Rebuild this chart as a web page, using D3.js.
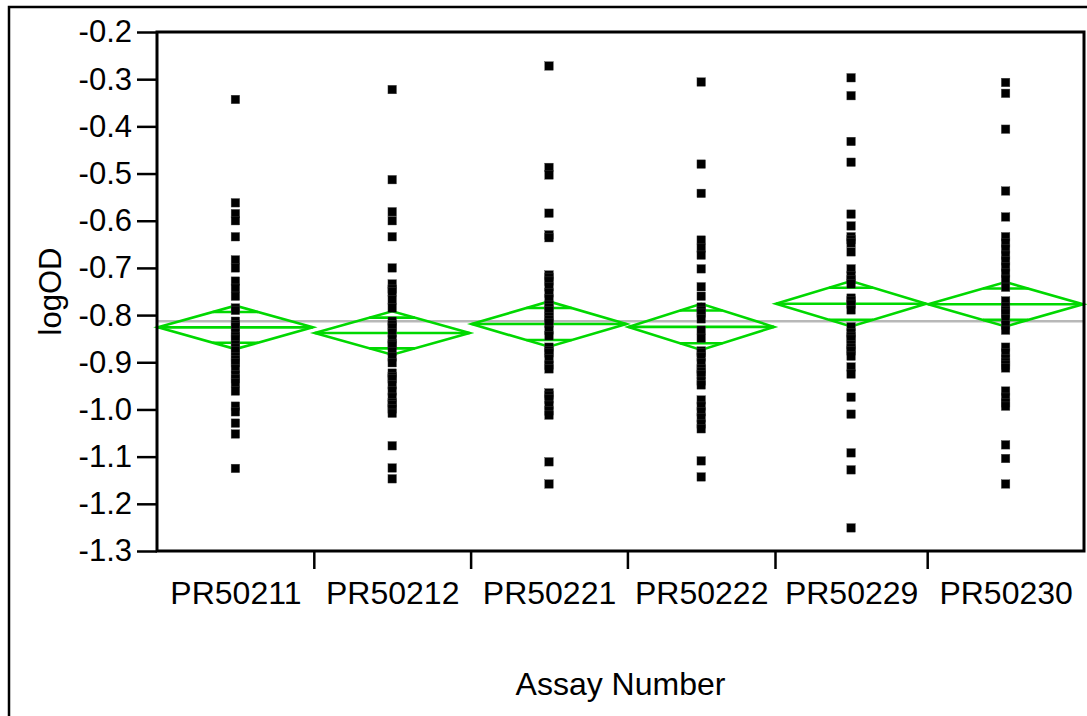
<!DOCTYPE html>
<html><head><meta charset="utf-8">
<script src="https://cdn.jsdelivr.net/npm/d3@7"></script>
<style>
body{margin:0;background:#fff}
text{font-family:"Liberation Sans",Arial,sans-serif}
</style>
</head><body>
<svg id="chart" width="1087" height="716"></svg>
<script>
// ---- data ----
const categories = ["PR50211","PR50212","PR50221","PR50222","PR50229","PR50230"];
const pr50211 = [-0.343,-0.562,-0.585,-0.600,-0.634,-0.683,-0.700,-0.728,-0.743,-0.760,-0.785,-0.790,-0.813,-0.820,-0.825,-0.838,-0.845,-0.851,-0.863,-0.870,-0.876,-0.889,-0.895,-0.901,-0.914,-0.927,-0.935,-0.944,-0.961,-0.993,-1.005,-1.029,-1.052,-1.125];
const pr50212 = [-0.322,-0.513,-0.581,-0.600,-0.634,-0.700,-0.734,-0.745,-0.751,-0.768,-0.785,-0.813,-0.820,-0.826,-0.838,-0.851,-0.860,-0.864,-0.877,-0.889,-0.901,-0.923,-0.930,-0.935,-0.948,-0.961,-0.974,-0.986,-0.990,-0.999,-1.008,-1.077,-1.124,-1.147];
const pr50221 = [-0.272,-0.487,-0.503,-0.584,-0.630,-0.636,-0.715,-0.720,-0.728,-0.740,-0.753,-0.766,-0.779,-0.785,-0.791,-0.804,-0.810,-0.817,-0.832,-0.844,-0.868,-0.875,-0.880,-0.893,-0.906,-0.914,-0.965,-0.970,-0.978,-0.991,-1.003,-1.012,-1.111,-1.158];
const pr50222 = [-0.306,-0.480,-0.542,-0.641,-0.658,-0.673,-0.702,-0.740,-0.760,-0.783,-0.790,-0.796,-0.808,-0.832,-0.849,-0.876,-0.880,-0.889,-0.901,-0.914,-0.920,-0.927,-0.940,-0.948,-0.980,-0.993,-1.005,-1.018,-1.031,-1.041,-1.109,-1.143];
const pr50229 = [-0.297,-0.335,-0.432,-0.476,-0.586,-0.611,-0.634,-0.640,-0.647,-0.666,-0.702,-0.717,-0.725,-0.734,-0.764,-0.770,-0.777,-0.789,-0.825,-0.838,-0.845,-0.851,-0.863,-0.870,-0.876,-0.887,-0.910,-0.925,-0.974,-1.010,-1.092,-1.128,-1.251];
const pr50230 = [-0.307,-0.330,-0.406,-0.537,-0.592,-0.634,-0.647,-0.660,-0.673,-0.685,-0.698,-0.711,-0.724,-0.741,-0.770,-0.783,-0.790,-0.796,-0.808,-0.821,-0.832,-0.868,-0.880,-0.893,-0.900,-0.906,-0.912,-0.961,-0.974,-0.986,-0.993,-1.075,-1.104,-1.158];
const groupValues = [pr50211, pr50212, pr50221, pr50222, pr50229, pr50230];
const groupMeans = [-0.826,-0.838,-0.819,-0.825,-0.776,-0.777];
const groupCIHalf = [0.046,0.046,0.048,0.049,0.048,0.047];
const grandMean = -0.813;
const yTicks = [-0.2,-0.3,-0.4,-0.5,-0.6,-0.7,-0.8,-0.9,-1.0,-1.1,-1.2,-1.3];
const xTitle = "Assay Number";
const yTitle = "logOD";

// ---- layout ----
const svg = d3.select("#chart");
const L = 157, R = 1084, T = 32, B = 551;
const green = "#00d800";
const FONT = "'Liberation Sans',Arial,sans-serif";

const counts = groupValues.map(g => g.length);
const cum = [0]; counts.forEach(c => cum.push(cum[cum.length-1] + c));
const total = cum[cum.length-1];
const x = d3.scaleLinear().domain([0, total]).range([L, R]);
const y = d3.scaleLinear().domain([-1.3, -0.2]).range([B, T]);

// outer border
svg.append("path").attr("d", `M9,716V7H1087`).attr("fill","none").attr("stroke","#000").attr("stroke-width",2.5);

// grand mean line
svg.append("line").attr("x1", L).attr("x2", R).attr("y1", y(grandMean)).attr("y2", y(grandMean))
  .attr("stroke", "#b8b8b8").attr("stroke-width", 2.5);

// diamonds
const gD = svg.append("g").attr("fill","none").attr("stroke",green).attr("stroke-width",2.6).attr("stroke-linejoin","miter");
categories.forEach((c,i) => {
  const x0 = x(cum[i]) + 1, x1 = x(cum[i+1]) - 1, xc = (x0 + x1)/2;
  const hw = (x1 - x0)/2;
  const m = groupMeans[i], h = groupCIHalf[i];
  gD.append("path").attr("d", `M${x0},${y(m)}L${xc},${y(m+h)}L${x1},${y(m)}L${xc},${y(m-h)}Z`);
  gD.append("line").attr("x1",x0).attr("x2",x1).attr("y1",y(m)).attr("y2",y(m));
  const ov = h/Math.SQRT2, k = 1 - 1/Math.SQRT2;
  [m+ov, m-ov].forEach(v => {
    gD.append("line").attr("x1", xc - hw*k).attr("x2", xc + hw*k).attr("y1", y(v)).attr("y2", y(v));
  });
});

// points
const s = 8.5;
groupValues.forEach((g,i) => {
  const xc = x((cum[i] + cum[i+1]) / 2);
  svg.append("g").selectAll("rect").data(g).join("rect")
    .attr("x", xc - s/2).attr("y", d => y(d) - s/2).attr("width", s).attr("height", s)
    .attr("fill", "#000").attr("stroke","#444").attr("stroke-width",0.4);
});

// frame
svg.append("rect").attr("x", L).attr("y", T).attr("width", R-L).attr("height", B-T)
  .attr("fill","none").attr("stroke","#000").attr("stroke-width",3);

// y axis
const yAxis = svg.append("g").attr("transform", `translate(${L},0)`)
  .call(d3.axisLeft(y).tickValues(yTicks).tickFormat(d => d.toFixed(1)).tickSize(20).tickPadding(5));
yAxis.select(".domain").remove();
yAxis.selectAll(".tick line").attr("stroke-width", 2.5);
yAxis.selectAll("text").attr("font-size", 31).attr("fill","#000").style("font-family", FONT);

// x boundary ticks
const xTickAxis = svg.append("g").attr("transform", `translate(0,${B})`)
  .call(d3.axisBottom(x).tickValues(cum.slice(1, -1)).tickFormat("").tickSize(18));
xTickAxis.select(".domain").remove();
xTickAxis.selectAll(".tick line").attr("stroke-width", 2.5);

// x labels
const centers = categories.map((c,i) => (cum[i] + cum[i+1]) / 2);
const xLab = svg.append("g").attr("transform", `translate(0,${B})`)
  .call(d3.axisBottom(x).tickValues(centers).tickFormat((d,i) => categories[i]).tickSize(0).tickPadding(30));
xLab.select(".domain").remove();
xLab.selectAll("text").attr("font-size", 32).attr("fill","#000").style("font-family", FONT);

// titles
svg.append("text").attr("x", (L+R)/2).attr("y", 695).attr("text-anchor","middle").attr("font-size",32).style("font-family", FONT).text(xTitle);
svg.append("text").attr("transform", `translate(61,${(T+B)/2}) rotate(-90)`).attr("text-anchor","middle").attr("font-size",31).style("font-family", FONT).text(yTitle);
</script>
</body></html>
